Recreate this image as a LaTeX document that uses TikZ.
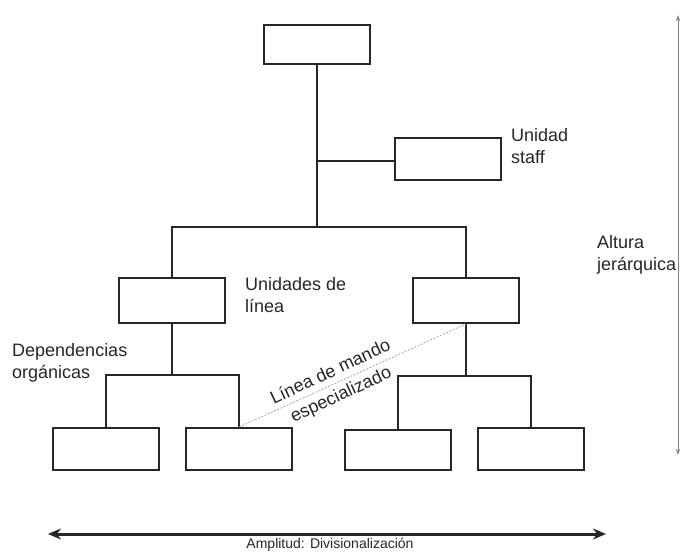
\documentclass[tikz,border=0pt]{standalone}
\usepackage{fontspec}
\setmainfont{Liberation Sans}
\usetikzlibrary{arrows.meta}
\definecolor{ink}{HTML}{262626}
\begin{document}
\begin{tikzpicture}[x=1pt,y=-1pt,
  box/.style={draw=ink, line width=1.8pt, minimum width=106pt, minimum height=42pt, inner sep=0pt},
  conn/.style={draw=ink, line width=1.4pt},
  lbl/.style={font=\fontsize{18}{22}\selectfont, text=ink, align=left, inner sep=0pt, anchor=west},
]
\useasboundingbox (0,0) rectangle (680,552);
% boxes
\node[box, minimum height=39pt] (top) at (317,44.5) {};
\node[box] (staff) at (448,159) {};
\node[box, minimum height=45pt] (ml) at (172,300.5) {};
\node[box, minimum height=45pt] (mr) at (466,300.5) {};
\node[box] (b1) at (106,449) {};
\node[box] (b2) at (239,449) {};
\node[box, minimum height=40pt] (b3) at (398,450) {};
\node[box] (b4) at (531,449) {};
% junction coordinates
\coordinate (bar) at (317,227);
\coordinate (stj) at (317,161);
\coordinate (ll) at (172,375);
\coordinate (lr) at (466,376);
% connectors
\draw[conn] (top.south) -- (bar);
\draw[conn] (stj) -- (stj -| staff.west);
\draw[conn] (ml.north) -- (ml.north |- bar) -- (mr.north |- bar) -- (mr.north);
\draw[conn] (ml.south) -- (ll);
\draw[conn] (b1.north) -- (b1.north |- ll) -- (b2.north |- ll) -- (b2.north);
\draw[conn] (mr.south) -- (lr);
\draw[conn] (b3.north) -- (b3.north |- lr) -- (b4.north |- lr) -- (b4.north);
% specialised command line
\draw[gray!70, line width=0.8pt, dash pattern=on 2pt off 1.5pt] (b2.north) -- (mr.south);
\node[font=\fontsize{18}{25}\selectfont, text=ink, rotate=25, align=center, inner sep=0pt] (lm) at (336,384) {Línea de mando\\especializado};
% labels
\node[lbl] (lstaff) at (511,146) {Unidad\\staff};
\node[lbl] (lalt) at (597,254.5) {Altura\\jerárquica};
\node[lbl] (lline) at (245,295) {Unidades de\\línea};
\node[lbl] (ldep) at (12,362.5) {Dependencias\\orgánicas};
% axes
\coordinate (al) at (48,534);
\coordinate (ar) at (606,534);
\draw[ink, line width=3pt, {Stealth[length=13pt,width=11pt]}-{Stealth[length=13pt,width=11pt]}] (al) -- (ar);
\node[font=\fontsize{14}{16}\selectfont, text=ink, inner sep=0pt] (lamp) at (330,545) {Amplitud: Divisionalización};
\coordinate (vt) at (678,15);
\coordinate (vb) at (678,455);
\draw[gray, line width=0.8pt, {Stealth[length=6pt,width=4pt]}-{Stealth[length=6pt,width=4pt]}] (vt) -- (vb);
\end{tikzpicture}
\end{document}
